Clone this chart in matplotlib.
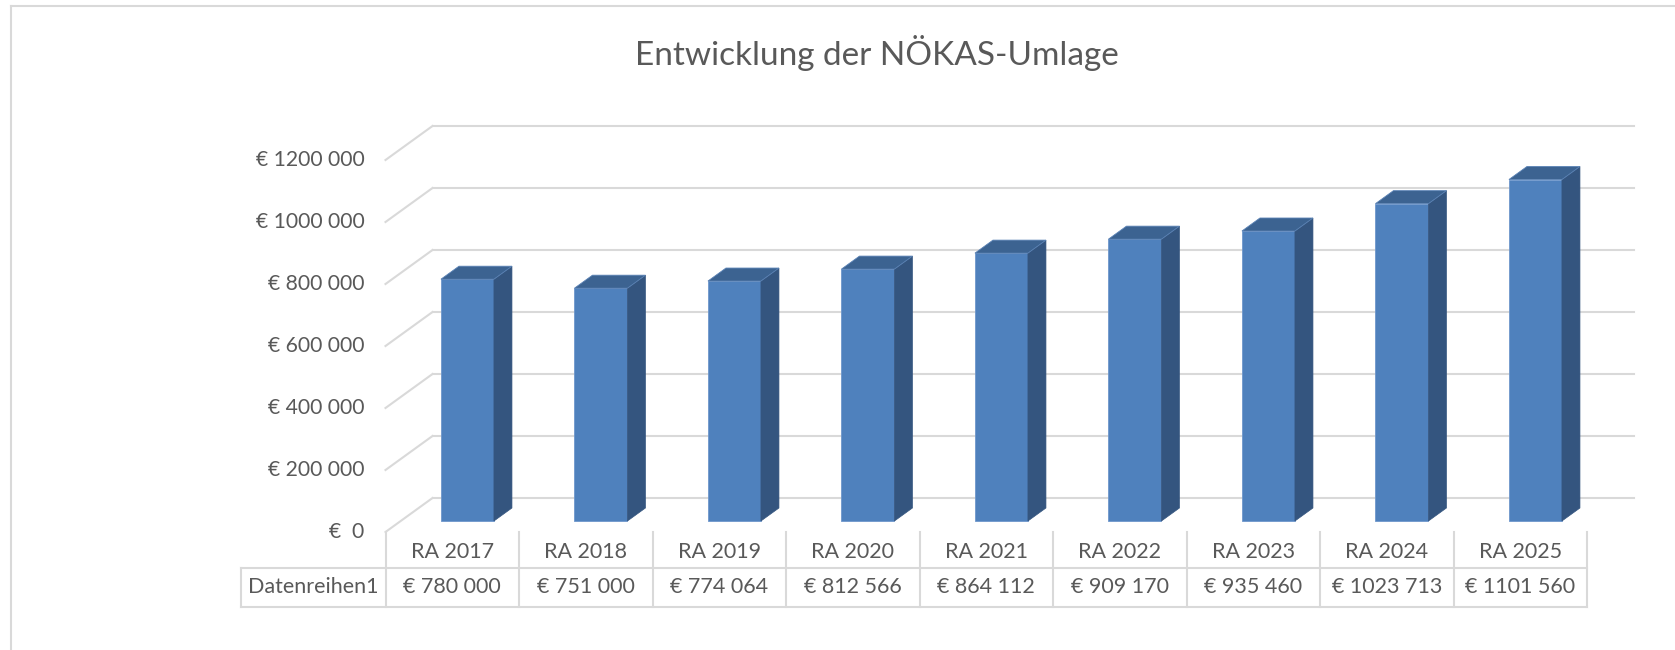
import numpy as np
import matplotlib
matplotlib.use("Agg")
import matplotlib.pyplot as plt
from matplotlib.patches import Polygon
from matplotlib.transforms import blended_transform_factory

plt.rcParams['font.family'] = ['Lato', 'DejaVu Sans']

# data
categories = ["RA 2017", "RA 2018", "RA 2019", "RA 2020", "RA 2021",
              "RA 2022", "RA 2023", "RA 2024", "RA 2025"]
values = [780000, 751000, 774064, 812566, 864112, 909170, 935460, 1023713, 1101560]
series_name = "Datenreihen1"
ticks = [0, 200000, 400000, 600000, 800000, 1000000, 1200000]
title = "Entwicklung der NÖKAS-Umlage"

def euro(v):
    if v == 0:
        return "€  0"
    if v >= 1000:
        return "€ %d %03d" % (v // 1000, v % 1000)
    return "€ %d" % v

txt = "#595959"
grid = "#D9D9D9"
front_c = "#4F81BD"
side_c = "#34557F"
top_c = "#3C6391"

W, H = 1675, 650
fig = plt.figure(figsize=(W / 100, H / 100), dpi=100)

# chart border (cut off on the right / bottom)
fig.add_artist(plt.Line2D([11 / W, 1], [1 - 6 / H, 1 - 6 / H], color=grid, lw=1.5))
fig.add_artist(plt.Line2D([11 / W, 11 / W], [0, 1 - 6 / H], color=grid, lw=1.5))

fig.text(877 / W, 1 - 53 / H, title, ha="center", va="center", fontsize=24, color=txt)

ax = fig.add_axes([385.5 / W, (H - 532) / H, 1201.5 / W, 372 / H])
ax.set_xlim(-0.5, len(categories) - 0.5)
ax.set_ylim(0, 1200000)
ax.axis("off")

# pixel -> data conversion
p0 = ax.transData.transform((0, 0))
px_x = ax.transData.transform((1, 0))[0] - p0[0]
px_y = ax.transData.transform((0, 1))[1] - p0[1]

def off(dx, dy):
    return dx / px_x, dy / px_y

# back wall + left side wall gridlines
bdx, bdy = off(47, 34)
x_left, x_right = -0.5, len(categories) - 0.5
for v in ticks:
    ax.plot([x_left, x_left + bdx], [v, v + bdy], color=grid, lw=1.5, clip_on=False, zorder=1)
    ax.plot([x_left + bdx, x_right + bdx], [v + bdy, v + bdy], color=grid, lw=1.5,
            clip_on=False, zorder=1)
    ax.annotate(euro(v), (x_left, v), xytext=(-21, 0), textcoords="offset pixels",
                ha="right", va="center", fontsize=15.2, color=txt, annotation_clip=False)

# 3d bars
fdx, fdy = off(15.2, 11)   # front plane of the bars
ddx, ddy = off(18, 13)     # bar depth
w = 53 / px_x
xs = np.arange(len(categories)) + fdx
ax.bar(xs, values, width=w, bottom=fdy, color=front_c, edgecolor="#6E97CC",
       lw=0.6, zorder=3, clip_on=False)
for x, v in zip(xs, values):
    r = x + w / 2
    l = x - w / 2
    top = v + fdy
    side = Polygon([(r, fdy), (r + ddx, fdy + ddy), (r + ddx, top + ddy), (r, top)],
                   closed=True, facecolor=side_c, edgecolor=side_c, lw=0.5, zorder=3,
                   clip_on=False)
    lid = Polygon([(l, top), (l + ddx, top + ddy), (r + ddx, top + ddy), (r, top)],
                  closed=True, facecolor=top_c, edgecolor="#5A82B5", lw=0.6, zorder=3,
                  clip_on=False)
    ax.add_patch(side)
    ax.add_patch(lid)

# data table
tr = blended_transform_factory(ax.transData, ax.transAxes)
y_mid = -36 / 372
y_bot = -75 / 372
lab_left = -0.5 - (385.5 - 241) / px_x
for i in range(len(categories) + 1):
    ax.plot([i - 0.5, i - 0.5], [0, y_bot], color=grid, lw=1.5, transform=tr, clip_on=False)
ax.plot([lab_left, lab_left], [y_mid, y_bot], color=grid, lw=1.5, transform=tr, clip_on=False)
for yy in (y_mid, y_bot):
    ax.plot([lab_left, x_right], [yy, yy], color=grid, lw=1.5, transform=tr, clip_on=False)

for i, (c, v) in enumerate(zip(categories, values)):
    ax.text(i, -20 / 372, c, transform=tr, ha="center", va="center", fontsize=15.5, color=txt)
    ax.text(i, -55 / 372, euro(v), transform=tr, ha="center", va="center", fontsize=15.5,
            color=txt)
ax.text((lab_left - 0.5) / 2, -55 / 372, series_name, transform=tr, ha="center", va="center",
        fontsize=15.5, color=txt)

fig.savefig("out.png", dpi=100, facecolor="white")
